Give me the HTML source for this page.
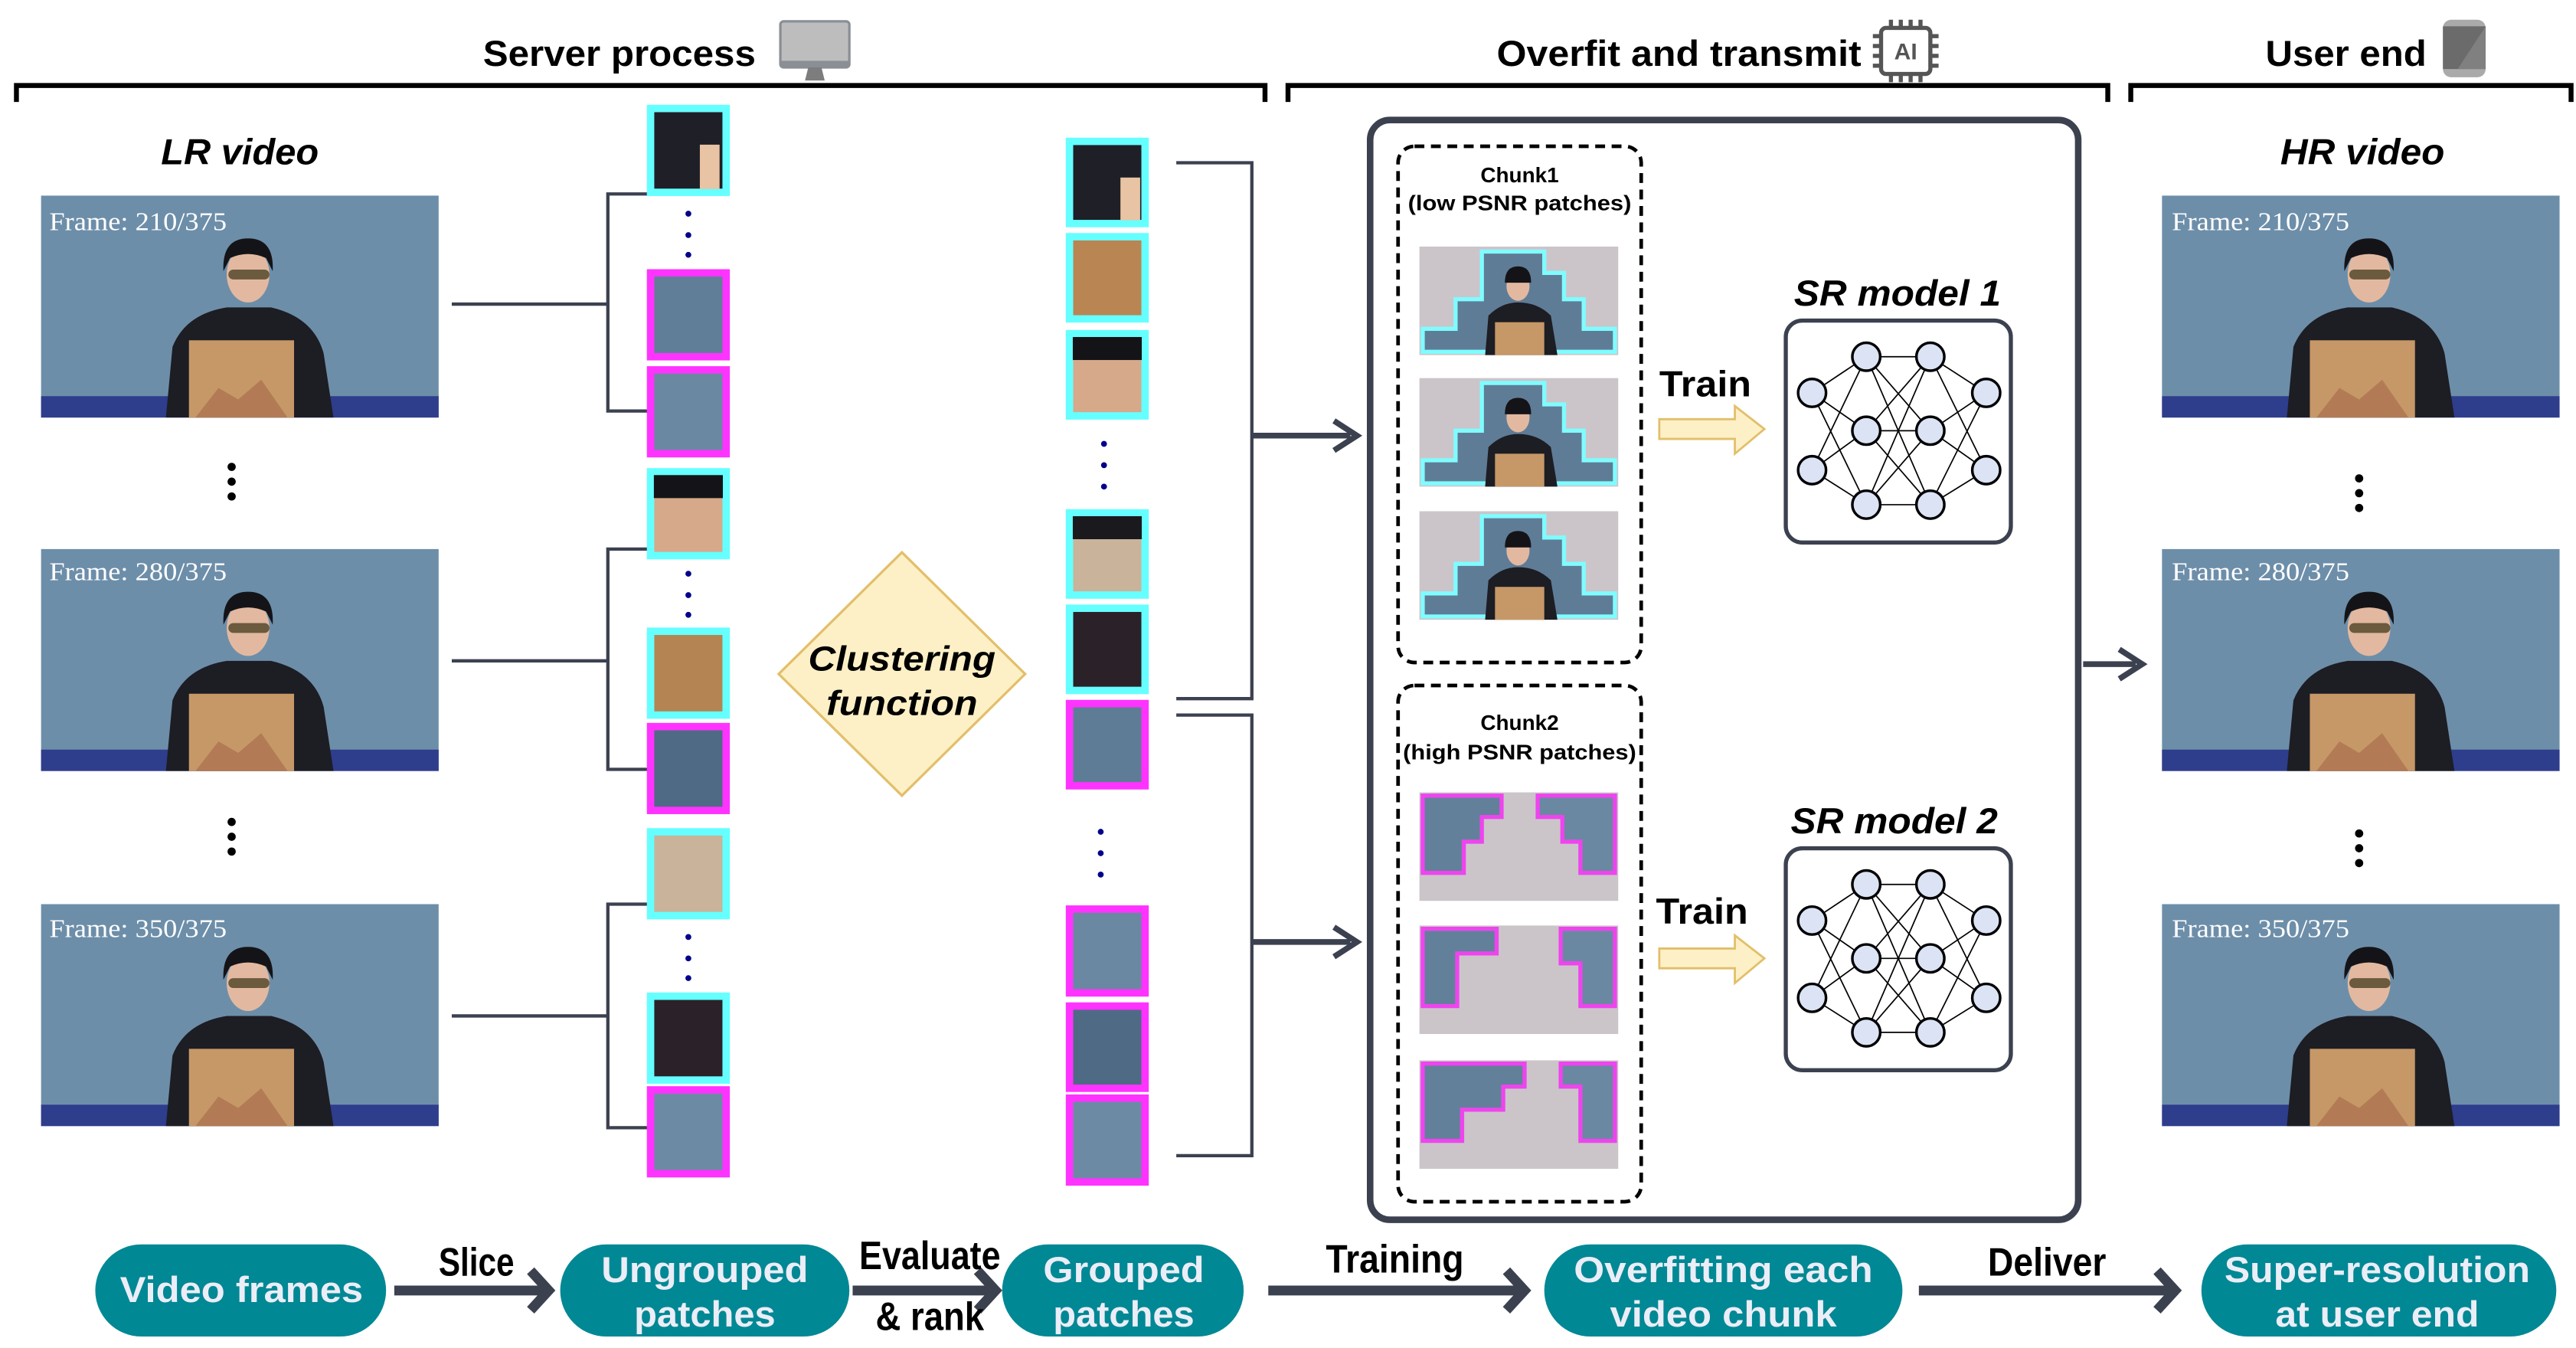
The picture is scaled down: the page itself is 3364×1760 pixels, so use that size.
<!DOCTYPE html>
<html><head><meta charset="utf-8"><style>
html,body{margin:0;padding:0;background:#fff;}
svg{display:block;}
text{font-family:"Liberation Sans",sans-serif;}
text.serif{font-family:"Liberation Serif",serif;}
</style></head><body>
<svg width="3364" height="1760" viewBox="0 0 1568 820" preserveAspectRatio="none" xmlns="http://www.w3.org/2000/svg">
<defs>
  <g id="photo">
    <rect x="0" y="0" width="242" height="135" fill="#6d8ea9"/>
    <rect x="0" y="122" width="242" height="13" fill="#2e3d8c"/>
    <path d="M76 135 L80 92 Q88 72 113 68 L140 68 Q166 74 172 96 L178 135 Z" fill="#1d1d24"/>
    <ellipse cx="126" cy="48" rx="13" ry="17" fill="#e2b9a0"/>
    <path d="M111 46 Q110 26 126 26 Q142 26 141 46 L137 38 Q126 33 115 38 Z" fill="#141418"/>
    <rect x="114" y="45" width="25" height="6" rx="3" fill="#6b5a3e"/>
    <rect x="90" y="88" width="64" height="47" fill="#c69867"/>
    <path d="M94 135 L108 117 L120 124 L134 112 L150 135 Z" fill="#b27a55"/>
  </g>
  <g id="c1img">
    <rect x="0" y="0" width="121" height="66" fill="#cbc5ca"/>
    <polygon points="2,64 2,50 22,50 22,32 38,32 38,3 76,3 76,16 88,16 88,32 100,32 100,50 119,50 119,64" fill="#5f7c96" stroke="#7ffcff" stroke-width="2.5"/>
    <path d="M40 66 L42 42 Q50 34 60 34 Q72 34 80 42 L84 66 Z" fill="#1d1d24"/>
    <ellipse cx="60" cy="24" rx="7" ry="9" fill="#e2b9a0"/>
    <path d="M52 22 Q52 12 60 12 Q68 12 68 22 Z" fill="#141418"/>
    <rect x="46" y="46" width="30" height="20" fill="#c69867"/>
  </g>
</defs>

<!-- headers -->
<text x="377" y="40" font-size="22" font-weight="bold" text-anchor="middle" textLength="166" lengthAdjust="spacingAndGlyphs">Server process</text>
<rect x="475" y="13" width="42" height="28" rx="2" fill="#bdbdbd" stroke="#8a8f96" stroke-width="1.5"/>
<rect x="475" y="37" width="42" height="4" fill="#8a8f96"/>
<polygon points="492,41 500,41 502,49 490,49" fill="#7d7d7d"/>
<text x="1022" y="40" font-size="22" font-weight="bold" text-anchor="middle" textLength="222" lengthAdjust="spacingAndGlyphs">Overfit and transmit</text>
<g stroke="#555" stroke-width="2.5" fill="none">
  <rect x="1145" y="17" width="30" height="28" rx="3"/>
  <path d="M1140 22h5M1140 28h5M1140 34h5M1140 40h5M1175 22h5M1175 28h5M1175 34h5M1175 40h5M1151 12v5M1157 12v5M1163 12v5M1169 12v5M1151 45v5M1157 45v5M1163 45v5M1169 45v5"/>
</g>
<text x="1160" y="36" font-size="14" font-weight="bold" fill="#555" text-anchor="middle">AI</text>
<text x="1428" y="40" font-size="22" font-weight="bold" text-anchor="middle" textLength="98" lengthAdjust="spacingAndGlyphs">User end</text>
<rect x="1487" y="12" width="26" height="35" rx="5" fill="#aaa"/>
<rect x="1487" y="16" width="26" height="26" fill="#6b6b6b"/>
<polygon points="1513,16 1513,42 1496,42" fill="#808080"/>

<g stroke="#000" stroke-width="3" fill="none">
  <path d="M10 62 V52 H770 V62"/>
  <path d="M784 62 V52 H1283 V62"/>
  <path d="M1297 62 V52 H1565 V62"/>
</g>

<text x="146" y="100" font-size="22" font-weight="bold" font-style="italic" text-anchor="middle" textLength="96" lengthAdjust="spacingAndGlyphs">LR video</text>
<text x="1438" y="100" font-size="22" font-weight="bold" font-style="italic" text-anchor="middle" textLength="100" lengthAdjust="spacingAndGlyphs">HR video</text>

<use href="#photo" x="25" y="119"/>
<use href="#photo" x="25" y="334"/>
<use href="#photo" x="25" y="550"/>
<use href="#photo" x="1316" y="119"/>
<use href="#photo" x="1316" y="334"/>
<use href="#photo" x="1316" y="550"/>
<g font-size="16" fill="#fff">
  <text class="serif" x="30" y="140" textLength="108" lengthAdjust="spacingAndGlyphs">Frame: 210/375</text>
  <text class="serif" x="30" y="353" textLength="108" lengthAdjust="spacingAndGlyphs">Frame: 280/375</text>
  <text class="serif" x="30" y="570" textLength="108" lengthAdjust="spacingAndGlyphs">Frame: 350/375</text>
  <text class="serif" x="1322" y="140" textLength="108" lengthAdjust="spacingAndGlyphs">Frame: 210/375</text>
  <text class="serif" x="1322" y="353" textLength="108" lengthAdjust="spacingAndGlyphs">Frame: 280/375</text>
  <text class="serif" x="1322" y="570" textLength="108" lengthAdjust="spacingAndGlyphs">Frame: 350/375</text>
</g>
<g fill="#000">
  <circle cx="141" cy="284" r="2.5"/><circle cx="141" cy="293" r="2.5"/><circle cx="141" cy="302" r="2.5"/>
  <circle cx="141" cy="500" r="2.5"/><circle cx="141" cy="509" r="2.5"/><circle cx="141" cy="518" r="2.5"/>
  <circle cx="1436" cy="291" r="2.5"/><circle cx="1436" cy="300" r="2.5"/><circle cx="1436" cy="309" r="2.5"/>
  <circle cx="1436" cy="507" r="2.5"/><circle cx="1436" cy="516" r="2.5"/><circle cx="1436" cy="525" r="2.5"/>
</g>

<g stroke="#3c4150" stroke-width="2" fill="none">
  <path d="M275 185 H370"/><path d="M395 118 H370 V250 H395"/>
  <path d="M275 402 H370"/><path d="M395 334 H370 V468 H395"/>
  <path d="M275 618 H370"/><path d="M395 550 H370 V686 H395"/>
</g>

<g stroke-width="4.5">
  <rect x="396" y="66" width="46" height="51" fill="#1f1f28" stroke="#66ffff"/>
  <rect x="396" y="166" width="46" height="51" fill="#617e98" stroke="#ff33ff"/>
  <rect x="396" y="225" width="46" height="51" fill="#6a88a2" stroke="#ff33ff"/>
  <rect x="396" y="287" width="46" height="51" fill="#d6a98a" stroke="#66ffff"/>
  <rect x="396" y="384" width="46" height="51" fill="#b48553" stroke="#66ffff"/>
  <rect x="396" y="442" width="46" height="51" fill="#4f6a85" stroke="#ff33ff"/>
  <rect x="396" y="506" width="46" height="51" fill="#c9b39a" stroke="#66ffff"/>
  <rect x="396" y="606" width="46" height="51" fill="#2a2228" stroke="#66ffff"/>
  <rect x="396" y="663" width="46" height="51" fill="#6d8aa5" stroke="#ff33ff"/>
</g>
<rect x="426" y="88" width="12" height="27" fill="#e8c4a4"/>
<rect x="398" y="289" width="42" height="14" fill="#141418"/>
<g fill="#00008b">
  <circle cx="419" cy="130" r="1.8"/><circle cx="419" cy="143" r="1.8"/><circle cx="419" cy="155" r="1.8"/>
  <circle cx="419" cy="349" r="1.8"/><circle cx="419" cy="362" r="1.8"/><circle cx="419" cy="374" r="1.8"/>
  <circle cx="419" cy="570" r="1.8"/><circle cx="419" cy="583" r="1.8"/><circle cx="419" cy="595" r="1.8"/>
</g>

<polygon points="549,336 624,410 549,484 474,410" fill="#fdf0c6" stroke="#e2bf6a" stroke-width="1.5"/>
<text x="549" y="408" font-size="21" font-weight="bold" font-style="italic" text-anchor="middle" textLength="114" lengthAdjust="spacingAndGlyphs">Clustering</text>
<text x="549" y="435" font-size="21" font-weight="bold" font-style="italic" text-anchor="middle" textLength="92" lengthAdjust="spacingAndGlyphs">function</text>

<g stroke-width="4.5">
  <rect x="651" y="86" width="46" height="50" fill="#1f1f28" stroke="#66ffff"/>
  <rect x="651" y="144" width="46" height="50" fill="#b98553" stroke="#66ffff"/>
  <rect x="651" y="203" width="46" height="50" fill="#d6a98a" stroke="#66ffff"/>
  <rect x="651" y="312" width="46" height="50" fill="#c9b39a" stroke="#66ffff"/>
  <rect x="651" y="370" width="46" height="50" fill="#2a2228" stroke="#66ffff"/>
  <rect x="651" y="428" width="46" height="50" fill="#5f7c96" stroke="#ff33ff"/>
  <rect x="651" y="553" width="46" height="51" fill="#6a88a2" stroke="#ff33ff"/>
  <rect x="651" y="612" width="46" height="50" fill="#4f6a85" stroke="#ff33ff"/>
  <rect x="651" y="668" width="46" height="51" fill="#6d8aa5" stroke="#ff33ff"/>
</g>
<rect x="682" y="108" width="12" height="26" fill="#e8c4a4"/>
<rect x="653" y="205" width="42" height="14" fill="#141418"/>
<rect x="653" y="314" width="42" height="14" fill="#1a1a1e"/>
<g fill="#00008b">
  <circle cx="672" cy="270" r="1.8"/><circle cx="672" cy="283" r="1.8"/><circle cx="672" cy="296" r="1.8"/>
  <circle cx="670" cy="506" r="1.8"/><circle cx="670" cy="519" r="1.8"/><circle cx="670" cy="532" r="1.8"/>
</g>

<g stroke="#3c4150" stroke-width="2" fill="none">
  <path d="M716 99 H762 V425 H716"/>
  <path d="M716 435 H762 V703 H716"/>
</g>
<g stroke="#3c4150" stroke-width="3.5" fill="none">
  <path d="M762 265 H822"/><path d="M812 256 L826 265 L812 274"/>
  <path d="M762 573 H822"/><path d="M812 564 L826 573 L812 582"/>
  <path d="M1268 404 H1300"/><path d="M1290 395 L1304 404 L1290 413"/>
</g>

<rect x="834" y="73" width="431" height="669" rx="12" fill="none" stroke="#3c4150" stroke-width="4"/>
<rect x="851" y="89" width="148" height="314" rx="10" fill="none" stroke="#000" stroke-width="2.2" stroke-dasharray="6,4"/>
<rect x="851" y="417" width="148" height="314" rx="10" fill="none" stroke="#000" stroke-width="2.2" stroke-dasharray="6,4"/>
<text x="925" y="111" font-size="13" font-weight="bold" text-anchor="middle">Chunk1</text>
<text x="925" y="128" font-size="13" font-weight="bold" text-anchor="middle" textLength="136" lengthAdjust="spacingAndGlyphs">(low PSNR patches)</text>
<text x="925" y="444" font-size="13" font-weight="bold" text-anchor="middle">Chunk2</text>
<text x="925" y="462" font-size="13" font-weight="bold" text-anchor="middle" textLength="142" lengthAdjust="spacingAndGlyphs">(high PSNR patches)</text>

<use href="#c1img" x="864" y="150"/>
<use href="#c1img" x="864" y="230"/>
<use href="#c1img" x="864" y="311"/>

<g>
  <rect x="864" y="482" width="121" height="66" fill="#cbc5ca"/>
  <polygon points="866,484 914,484 914,497 902,497 902,512 891,512 891,531 866,531" fill="#62809a" stroke="#ee44ee" stroke-width="2.5"/>
  <polygon points="936,484 983,484 983,531 962,531 962,512 951,512 951,497 936,497" fill="#6a88a2" stroke="#ee44ee" stroke-width="2.5"/>
  <rect x="864" y="563" width="121" height="66" fill="#cbc5ca"/>
  <polygon points="866,565 911,565 911,580 887,580 887,612 866,612" fill="#62809a" stroke="#ee44ee" stroke-width="2.5"/>
  <polygon points="950,565 983,565 983,612 962,612 962,586 950,586" fill="#6a88a2" stroke="#ee44ee" stroke-width="2.5"/>
  <rect x="864" y="645" width="121" height="66" fill="#cbc5ca"/>
  <polygon points="866,647 928,647 928,661 915,661 915,675 890,675 890,694 866,694" fill="#62809a" stroke="#ee44ee" stroke-width="2.5"/>
  <polygon points="950,647 983,647 983,694 962,694 962,661 950,661" fill="#6a88a2" stroke="#ee44ee" stroke-width="2.5"/>
</g>

<text x="1038" y="241" font-size="22" font-weight="bold" text-anchor="middle" textLength="56" lengthAdjust="spacingAndGlyphs">Train</text>
<polygon points="1010,255 1056,255 1056,247 1074,261 1056,276 1056,267 1010,267" fill="#fdf0c6" stroke="#e2bf6a" stroke-width="1.3"/>
<text x="1036" y="562" font-size="22" font-weight="bold" text-anchor="middle" textLength="56" lengthAdjust="spacingAndGlyphs">Train</text>
<polygon points="1010,577 1056,577 1056,569 1074,583 1056,598 1056,589 1010,589" fill="#fdf0c6" stroke="#e2bf6a" stroke-width="1.3"/>

<text x="1155" y="186" font-size="22" font-weight="bold" font-style="italic" text-anchor="middle" textLength="126" lengthAdjust="spacingAndGlyphs">SR model 1</text>
<text x="1153" y="507" font-size="22" font-weight="bold" font-style="italic" text-anchor="middle" textLength="126" lengthAdjust="spacingAndGlyphs">SR model 2</text>

<g id="nn1">
  <rect x="1087" y="195" width="137" height="135" rx="10" fill="#fff" stroke="#3c4150" stroke-width="2.5"/>
  <g stroke="#000" stroke-width="0.8">
    <path d="M1103 239L1136 217M1103 239L1136 262M1103 239L1136 307M1103 286L1136 217M1103 286L1136 262M1103 286L1136 307"/>
    <path d="M1136 217L1175 217M1136 217L1175 262M1136 217L1175 307M1136 262L1175 217M1136 262L1175 262M1136 262L1175 307M1136 307L1175 217M1136 307L1175 262M1136 307L1175 307"/>
    <path d="M1175 217L1209 239M1175 217L1209 286M1175 262L1209 239M1175 262L1209 286M1175 307L1209 239M1175 307L1209 286"/>
  </g>
  <g fill="#dbe3f5" stroke="#000" stroke-width="1.6">
    <circle cx="1103" cy="239" r="8.5"/><circle cx="1103" cy="286" r="8.5"/>
    <circle cx="1136" cy="217" r="8.5"/><circle cx="1136" cy="262" r="8.5"/><circle cx="1136" cy="307" r="8.5"/>
    <circle cx="1175" cy="217" r="8.5"/><circle cx="1175" cy="262" r="8.5"/><circle cx="1175" cy="307" r="8.5"/>
    <circle cx="1209" cy="239" r="8.5"/><circle cx="1209" cy="286" r="8.5"/>
  </g>
</g>
<use href="#nn1" x="0" y="321"/>

<g fill="#008894">
  <rect x="58" y="757" width="177" height="56" rx="28"/>
  <rect x="341" y="757" width="176" height="56" rx="28"/>
  <rect x="610" y="757" width="147" height="56" rx="28"/>
  <rect x="940" y="757" width="218" height="56" rx="28"/>
  <rect x="1340" y="757" width="216" height="56" rx="28"/>
</g>
<g fill="#ebedf7" font-size="22" font-weight="bold" text-anchor="middle">
  <text x="147" y="792" textLength="148" lengthAdjust="spacingAndGlyphs">Video frames</text>
  <text x="429" y="780" textLength="126" lengthAdjust="spacingAndGlyphs">Ungrouped</text>
  <text x="429" y="807" textLength="86" lengthAdjust="spacingAndGlyphs">patches</text>
  <text x="684" y="780" textLength="98" lengthAdjust="spacingAndGlyphs">Grouped</text>
  <text x="684" y="807" textLength="86" lengthAdjust="spacingAndGlyphs">patches</text>
  <text x="1049" y="780" textLength="182" lengthAdjust="spacingAndGlyphs">Overfitting each</text>
  <text x="1049" y="807" textLength="138" lengthAdjust="spacingAndGlyphs">video chunk</text>
  <text x="1447" y="780" textLength="186" lengthAdjust="spacingAndGlyphs">Super-resolution</text>
  <text x="1447" y="807" textLength="124" lengthAdjust="spacingAndGlyphs">at user end</text>
</g>
<g stroke="#3c4150" stroke-width="6" fill="none">
  <path d="M240 785 H330"/><path d="M323 773 L334 785 L323 797"/>
  <path d="M519 785 H602"/><path d="M595 773 L606 785 L595 797"/>
  <path d="M772 785 H924"/><path d="M917 773 L928 785 L917 797"/>
  <path d="M1168 785 H1320"/><path d="M1313 773 L1324 785 L1313 797"/>
</g>
<g font-size="24" font-weight="bold" text-anchor="middle">
  <text x="290" y="776" textLength="46" lengthAdjust="spacingAndGlyphs">Slice</text>
  <text x="566" y="772" textLength="86" lengthAdjust="spacingAndGlyphs">Evaluate</text>
  <text x="566" y="809" textLength="66" lengthAdjust="spacingAndGlyphs">&amp; rank</text>
  <text x="849" y="774" textLength="84" lengthAdjust="spacingAndGlyphs">Training</text>
  <text x="1246" y="776" textLength="72" lengthAdjust="spacingAndGlyphs">Deliver</text>
</g>
</svg>
</body></html>
